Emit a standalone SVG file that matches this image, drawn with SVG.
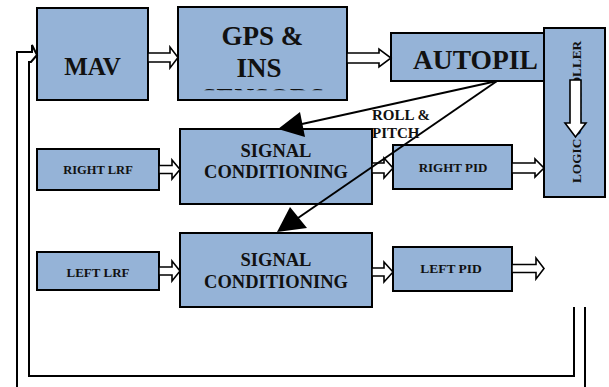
<svg xmlns="http://www.w3.org/2000/svg" width="609" height="387" viewBox="0 0 609 387">
<style>
.box{fill:#95B3D7;stroke:#000;stroke-width:2}
.t{font-family:"Liberation Serif","Times New Roman",serif;font-weight:bold;fill:#111;text-anchor:middle}
.ba{fill:#fff;stroke:#000;stroke-width:1.6;stroke-linejoin:miter}
.ln{fill:none;stroke:#000;stroke-width:2}
</style>
<defs>
<clipPath id="gpsclip"><rect x="178" y="7" width="169" height="83.3"/></clipPath>
<clipPath id="apclip"><rect x="391" y="33" width="147" height="48"/></clipPath>
</defs>
<rect width="609" height="387" fill="#fff"/>
<g id="mav"><rect class="box" x="37" y="8" width="111" height="92"/><text class="t" x="92.5" y="75" font-size="25">MAV</text></g>
<g id="gps"><rect class="box" x="178" y="7" width="169" height="93"/>
<text class="t" x="262.5" y="45" font-size="27">GPS &amp;</text>
<text class="t" x="259" y="77" font-size="27">INS</text>
<text class="t" x="263" y="107" font-size="27" clip-path="url(#gpsclip)">SENSORS</text></g>
<g id="autopilot"><rect class="box" x="391" y="33" width="160" height="48"/><text class="t" x="413" y="69" font-size="27.5" style="text-anchor:start" clip-path="url(#apclip)">AUTOPILOT</text></g>
<g id="logic"><rect class="box" x="544" y="28" width="61" height="169"/>
<text class="t" transform="translate(581,183) rotate(-90)" x="0" y="0" font-size="13.3" style="text-anchor:start">LOGIC CONTROLLER</text>
<polygon class="ba" points="570,80 581,80 581,123 586,123 575.5,137 565,123 570,123"/></g>
<g id="rightlrf"><rect class="box" x="37" y="149" width="122" height="41"/><text class="t" x="98" y="174" font-size="12.5">RIGHT LRF</text></g>
<g id="sc1"><rect class="box" x="180" y="129" width="192" height="75"/>
<text class="t" x="276" y="157" font-size="18.5">SIGNAL</text><text class="t" x="276" y="178" font-size="18.5">CONDITIONING</text></g>
<g id="rightpid"><rect class="box" x="393" y="145" width="119" height="44"/><text class="t" x="453" y="172" font-size="13">RIGHT PID</text></g>
<g id="leftlrf"><rect class="box" x="37" y="252" width="122" height="38"/><text class="t" x="98" y="277" font-size="13">LEFT LRF</text></g>
<g id="sc2"><rect class="box" x="180" y="233" width="192" height="74"/>
<text class="t" x="276" y="266" font-size="18.5">SIGNAL</text><text class="t" x="276" y="288" font-size="18.5">CONDITIONING</text></g>
<g id="leftpid"><rect class="box" x="393" y="247" width="119" height="44"/><text class="t" x="451" y="273" font-size="13.5">LEFT PID</text></g>
<g id="connectors">
<polygon class="ba" points="148,53 170,53 170,47 178,57.5 170,68 170,62 148,62"/>
<polygon class="ba" points="347,53 379,53 379,49 391,58 379,67 379,63 347,63"/>
<polygon class="ba" points="159,165.5 172,165.5 172,160 180,169.5 172,179 172,173.5 159,173.5"/>
<polygon class="ba" points="372,163 384,163 384,158 393,168 384,178 384,173 372,173"/>
<polygon class="ba" points="512,163 535,163 535,159 544,168 535,177 535,173 512,173"/>
<polygon class="ba" points="159,267 172,267 172,261 180,271 172,281 172,275 159,275"/>
<polygon class="ba" points="372,268 384,268 384,262 393,272 384,282 384,276 372,276"/>
<polygon class="ba" points="512,264.5 536,264.5 536,258 544,268.5 536,279 536,272.5 512,272.5"/>
<line class="ln" x1="497" y1="81" x2="302" y2="124"/>
<polygon points="278,129 300,112 305,137" fill="#000"/>
<line class="ln" x1="497" y1="81" x2="298" y2="218"/>
<polygon points="277,232 290,207 307,228" fill="#000"/>
<polyline class="ln" points="17,390 17,52 32,52 32,45 37,55 31,62 29,62 29,376 574,376 574,307"/>
<line class="ln" x1="585" y1="307" x2="585" y2="390"/>
<text class="t" x="372" y="120" font-size="15" style="text-anchor:start">ROLL &amp;</text>
<text class="t" x="372" y="138" font-size="15" style="text-anchor:start">PITCH</text>
</g>
</svg>
